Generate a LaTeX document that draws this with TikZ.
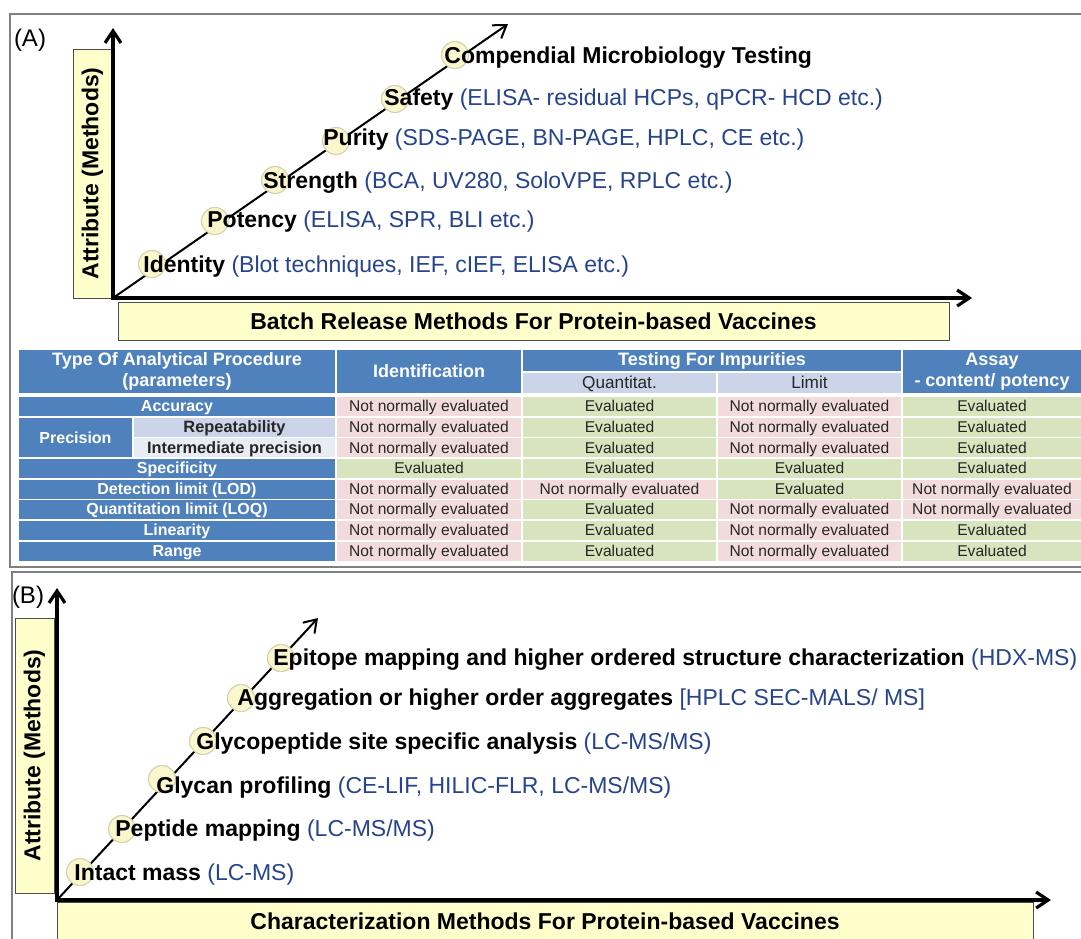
\documentclass[tikz,border=0pt]{standalone}
\usepackage{fontspec}
\setmainfont{Liberation Sans}
\usetikzlibrary{positioning, arrows.meta, calc}

\definecolor{hdrblue}{RGB}{79,129,189}
\definecolor{subblue}{RGB}{203,212,232}
\definecolor{palblue}{RGB}{232,236,244}
\definecolor{cellpink}{RGB}{242,220,219}
\definecolor{cellgreen}{RGB}{215,228,189}
\definecolor{boxyellow}{RGB}{255,255,204}
\definecolor{haloyellow}{RGB}{251,247,205}
\definecolor{methblue}{RGB}{38,68,140}

\newcommand{\txtn}{Not normally evaluated}
\newcommand{\txte}{Evaluated}

\begin{document}
\begin{tikzpicture}[x=0.5pt, y=-0.5pt, >={Straight Barb[length=6pt,width=8pt]}]
    % Styles
    \tikzstyle{panel} = [draw=gray, line width=1pt]
    \tikzstyle{axis} = [->, line width=1.6pt]
    \tikzstyle{trend} = [->, line width=1pt]
    \tikzstyle{lbox} = [draw=black!70, line width=0.5pt, fill=boxyellow, inner sep=0pt,
    font=\bfseries\fontsize{11.5}{13}\selectfont]
    \tikzstyle{halo} = [circle, fill=haloyellow, draw=haloyellow!85!black, line width=0.6pt,
    minimum size=13.5pt, inner sep=0pt]
    \tikzstyle{attr} = [anchor=west, inner sep=0pt, font=\fontsize{11.5}{13}\selectfont]
    \tikzstyle{tag} = [inner sep=0pt, font=\fontsize{12}{14}\selectfont]
    \tikzstyle{cell} = [inner sep=0pt, minimum height=9.5pt, text height=0.72em, text depth=0.2em,
    text=black!85, font=\fontsize{7.8}{9}\selectfont]
    \tikzstyle{celln} = [cell, fill=cellpink]
    \tikzstyle{celle} = [cell, fill=cellgreen]
    \tikzstyle{rowhdr} = [cell, fill=hdrblue, text=white, minimum width=158pt,
    font=\bfseries\fontsize{8}{9}\selectfont]
    \tikzstyle{hdr} = [inner sep=0pt, fill=hdrblue, text=white, align=center,
    font=\bfseries\fontsize{9}{10.5}\selectfont]

    \useasboundingbox (0,0) rectangle (1081,938);

    % Panels
    \draw[panel] (10,14) rectangle (1100,567);
    \draw[panel] (12,572) rectangle (1100,960);
    \node[tag] (tagA) at (30,40) {(A)};
    \node[tag] (tagB) at (28,597) {(B)};

    % Table header
    \node[hdr, minimum width=158pt, minimum height=21.5pt] (htype) at (177,371.5) {Type Of Analytical Procedure\\(parameters)};
    \node[hdr, minimum width=92pt, minimum height=21.5pt] (hident) at (429,371.5) {Identification};
    \node[hdr, minimum width=189pt, minimum height=10.5pt] (himp) at (712,360.5) {Testing For Impurities};
    \node[cell, fill=subblue, minimum width=96.5pt, minimum height=10pt, font=\fontsize{8.6}{10}\selectfont] (hquant) at (619.5,383) {Quantitat.};
    \node[cell, fill=subblue, minimum width=91.5pt, minimum height=10pt, font=\fontsize{8.6}{10}\selectfont] (hlimit) at (809.5,383) {Limit};
    \node[hdr, minimum width=89pt, minimum height=21.5pt] (hassay) at (992,371.5) {Assay\\- content/ potency};

    % Row labels
    \foreach \r/\t in {1/Accuracy, 4/Specificity, 5/Detection limit (LOD), 6/Quantitation limit (LOQ), 7/Linearity, 8/Range}
        \node[rowhdr] (r\r) at (177, {406.5+20.65*(\r-1)}) {\t};
    \node[rowhdr, minimum width=56.5pt, minimum height=19.8pt, text height=, text depth=] (rprec) at (75.5,437.5) {Precision};
    \node[cell, fill=subblue, minimum width=100.5pt, font=\bfseries\fontsize{8.2}{9}\selectfont] (r2) at (234.5,427.15) {Repeatability};
    \node[cell, fill=palblue, minimum width=100.5pt, font=\bfseries\fontsize{8.2}{9}\selectfont] (r3) at (234.5,447.8) {Intermediate precision};

    % Table cells
    \foreach \r/\a/\b/\c/\d in {1/n/e/n/e, 2/n/e/n/e, 3/n/e/n/e, 4/e/e/e/e, 5/n/n/e/n, 6/n/e/n/n, 7/n/e/n/e, 8/n/e/n/e}
        \foreach \v/\cx/\w [count=\k] in {\a/429/92, \b/619.5/96.5, \c/809.5/91.5, \d/992/89}
            \node[cell\v, minimum width=\w pt] (d\r\k) at (\cx, {406.5+20.65*(\r-1)}) {\csname txt\v\endcsname};

    % Axis label boxes
    \node[lbox, rotate=90, minimum width=124.5pt, minimum height=19.5pt] (yboxA) at (92.5,173.5) {Attribute (Methods)};
    \node[lbox, minimum width=415.5pt, minimum height=19pt] (xboxA) at (533.5,321) {Batch Release Methods For Protein-based Vaccines};
    \node[lbox, rotate=90, minimum width=137.5pt, minimum height=19.5pt] (yboxB) at (34.5,755.5) {Attribute (Methods)};
    \node[lbox, minimum width=488pt, minimum height=19pt] (xboxB) at (545,921) {Characterization Methods For Protein-based Vaccines};

    % Axes
    \coordinate (oA) at (113,298);
    \coordinate (yA) at (113,28);
    \coordinate (xA) at (972,298);
    \coordinate (dA) at (508,24);
    \coordinate (oB) at (57,900);
    \coordinate (yB) at (57,588);
    \coordinate (xB) at (1051,900);
    \coordinate (dB) at (318,618);
    \draw[axis] ($(oA)+(0,2)$) -- (yA);
    \draw[axis] ($(oA)+(-1,0)$) -- (xA);
    \draw[trend] (oA) -- (dA);
    \draw[axis] ($(oB)+(0,2)$) -- (yB);
    \draw[axis] ($(oB)+(-1,0)$) -- (xB);
    \draw[trend] (oB) -- (dB);

    % Batch release attributes
    \foreach \n/\cx/\cy in {id/152/264, pot/215/221, str/275/180, pur/336/141, saf/395/99, comp/455/55}
        \node[halo] (c\n) at (\cx,\cy) {};
    \node[attr] (lid) at (143,267) {\textbf{Identity} \textcolor{methblue}{(Blot techniques, IEF, cIEF, ELISA etc.)}};
    \node[attr] (lpot) at (207,222) {\textbf{Potency} \textcolor{methblue}{(ELISA, SPR, BLI etc.)}};
    \node[attr] (lstr) at (263,183) {\textbf{Strength} \textcolor{methblue}{(BCA, UV280, SoloVPE, RPLC etc.)}};
    \node[attr] (lpur) at (323,140) {\textbf{Purity} \textcolor{methblue}{(SDS-PAGE, BN-PAGE, HPLC, CE etc.)}};
    \node[attr] (lsaf) at (384,100) {\textbf{Safety} \textcolor{methblue}{(ELISA- residual HCPs, qPCR- HCD etc.)}};
    \node[attr] (lcomp) at (444,58) {\textbf{Compendial Microbiology Testing}};

    % Characterization attributes
    \foreach \n/\cx/\cy in {mass/80/872, pep/122/829, gly/162/779, glp/203/741, agg/241/698, epi/281/658}
        \node[halo] (c\n) at (\cx,\cy) {};
    \node[attr] (lmass) at (74,875) {\textbf{Intact mass} \textcolor{methblue}{(LC-MS)}};
    \node[attr] (lpep) at (115,831) {\textbf{Peptide mapping} \textcolor{methblue}{(LC-MS/MS)}};
    \node[attr] (lgly) at (156,788) {\textbf{Glycan profiling} \textcolor{methblue}{(CE-LIF, HILIC-FLR, LC-MS/MS)}};
    \node[attr] (lglp) at (196,744) {\textbf{Glycopeptide site specific analysis} \textcolor{methblue}{(LC-MS/MS)}};
    \node[attr] (lagg) at (237,700) {\textbf{Aggregation or higher order aggregates} \textcolor{methblue}{[HPLC SEC-MALS/ MS]}};
    \node[attr] (lepi) at (273,660) {\textbf{Epitope mapping and higher ordered structure characterization} \textcolor{methblue}{(HDX-MS)}};
\end{tikzpicture}
\end{document}
